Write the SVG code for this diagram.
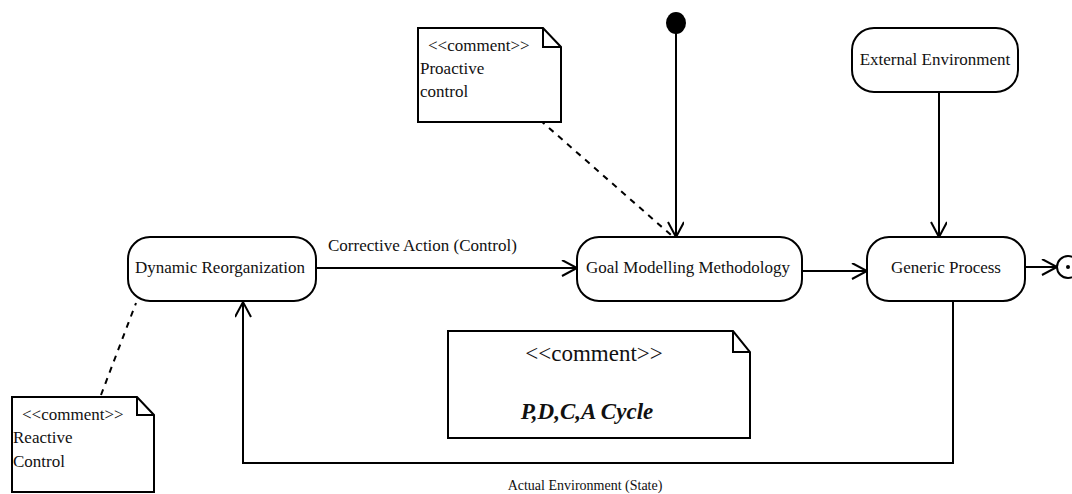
<svg xmlns="http://www.w3.org/2000/svg" width="1072" height="494" viewBox="0 0 1072 494">
<defs>
<marker id="arr" markerUnits="userSpaceOnUse" markerWidth="20" markerHeight="20" refX="16" refY="8" orient="auto">
<path d="M1,0 L16,8 L1,16" fill="none" stroke="#000" stroke-width="2"/>
</marker>
</defs>
<style>
.node{fill:#fff;stroke:#000;stroke-width:2}
.note{fill:#fff;stroke:#000;stroke-width:2}
.t{font-family:"Liberation Serif","Times New Roman",serif;font-size:17px;fill:#111}
.c{stroke:#000;stroke-width:2;fill:none}
.d{stroke:#000;stroke-width:2;fill:none;stroke-dasharray:6,6}
</style>
<g id="connectors">
<line class="c" x1="676" y1="30" x2="676" y2="237" marker-end="url(#arr)"/>
<line class="c" x1="939" y1="92" x2="939" y2="237" marker-end="url(#arr)"/>
<line class="c" x1="316" y1="268" x2="577" y2="268" marker-end="url(#arr)"/>
<line class="c" x1="802" y1="271" x2="867" y2="271" marker-end="url(#arr)"/>
<line class="c" x1="1025" y1="267" x2="1057" y2="267" marker-end="url(#arr)"/>
<polyline class="c" points="953,302 953,463 243,463 243,302" marker-end="url(#arr)"/>
<line class="d" x1="540" y1="120" x2="671" y2="235"/>
<line class="d" x1="101" y1="395" x2="136" y2="303"/>
<text class="t" x="328" y="251">Corrective Action (Control)</text>
<text class="t" x="585" y="490" text-anchor="middle" style="font-size:14px">Actual Environment (State)</text>
</g>
<g id="initial"><ellipse cx="676" cy="23" rx="10" ry="11" fill="#000"/></g>
<g id="final"><circle cx="1068" cy="267" r="11" fill="#fff" stroke="#000" stroke-width="2"/><circle cx="1068" cy="267" r="2" fill="#000"/></g>
<g id="dynamic"><rect class="node" x="128" y="237" width="188" height="64" rx="22"/><text class="t" x="220" y="273" text-anchor="middle">Dynamic Reorganization</text></g>
<g id="goal"><rect class="node" x="577" y="237" width="225" height="64" rx="22"/><text class="t" x="688" y="273" text-anchor="middle">Goal Modelling Methodology</text></g>
<g id="generic"><rect class="node" x="867" y="237" width="158" height="64" rx="22"/><text class="t" x="946" y="273" text-anchor="middle">Generic Process</text></g>
<g id="external"><rect class="node" x="852" y="28" width="166" height="64" rx="22"/><text class="t" x="935" y="65" text-anchor="middle">External Environment</text></g>
<g id="note-proactive"><path class="note" d="M418,28 H543 L561,47 V122 H418 Z"/><path class="c" d="M543,28 V47 H561"/>
<text class="t" x="428" y="51">&lt;&lt;comment&gt;&gt;</text><text class="t" x="420" y="74">Proactive</text><text class="t" x="420" y="97">control</text></g>
<g id="note-reactive"><path class="note" d="M12,397 H137 L154,415 V492 H12 Z"/><path class="c" d="M137,397 V415 H154"/>
<text class="t" x="22" y="420">&lt;&lt;comment&gt;&gt;</text><text class="t" x="13" y="443">Reactive</text><text class="t" x="13" y="467">Control</text></g>
<g id="note-pdca"><path class="note" d="M448,331 H733 L750,352 V438 H448 Z"/><path class="c" d="M733,331 V352 H750"/>
<text class="t" x="594" y="361" text-anchor="middle" style="font-size:23px">&lt;&lt;comment&gt;&gt;</text>
<text class="t" x="587" y="419" text-anchor="middle" style="font-size:23px;font-weight:bold;font-style:italic">P,D,C,A Cycle</text></g>
</svg>
